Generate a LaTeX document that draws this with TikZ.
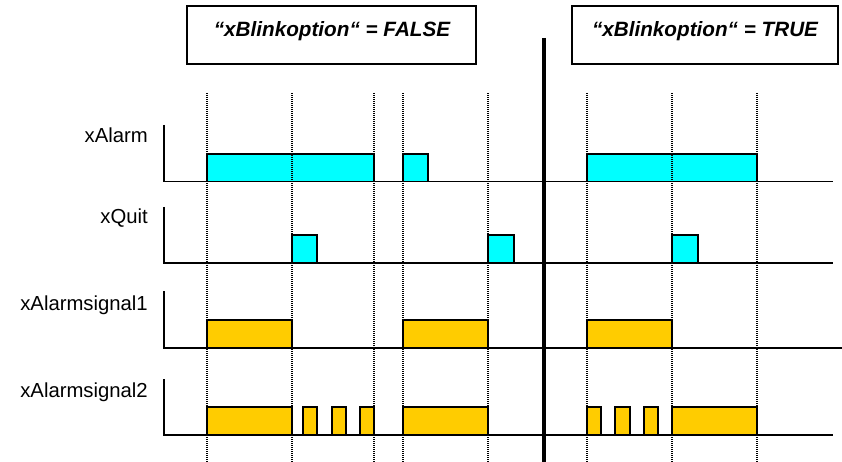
\documentclass[tikz,border=0pt]{standalone}
\usepackage{fontspec}
\setmainfont{Liberation Sans}
\definecolor{sigcyan}{HTML}{00FFFF}
\definecolor{siggold}{HTML}{FFCC00}
\begin{document}
\begin{tikzpicture}[x=1pt,y=-1pt,
  axisline/.style={line width=1.5pt},
  cyanpulse/.style={fill=sigcyan,draw=black,line width=1.5pt},
  goldpulse/.style={fill=siggold,draw=black,line width=1.5pt},
  guide/.style={line width=1.1pt,dash pattern=on 1pt off 1pt},
  divider/.style={line width=3.2pt},
  titlebox/.style={draw=black,line width=1.3pt},
  titletext/.style={font=\fontsize{20.7}{24}\selectfont\bfseries\itshape,inner sep=0pt},
  lbl/.style={font=\fontsize{20.3}{24}\selectfont,anchor=base east,inner sep=0pt}]
\useasboundingbox (0,0) rectangle (842,462);

% title boxes
\draw[titlebox] (187,6) rectangle (476,64);
\node[titletext] (tfalse) at (332,31) {“xBlinkoption“ = FALSE};
\draw[titlebox] (572,6) rectangle (838,64);
\node[titletext] (ttrue) at (705,31) {“xBlinkoption“ = TRUE};

% labels
\node[lbl] (lalarm) at (148,143) {xAlarm};
\node[lbl] (lquit) at (148,223) {xQuit};
\node[lbl] (lsig1) at (148,310) {xAlarmsignal1};
\node[lbl] (lsig2) at (148,397) {xAlarmsignal2};

% xAlarm
\draw[axisline] (164,125) -- (164,181.7) -- (833,181.7);
\draw[cyanpulse] (207,181.7) rectangle (374,154);
\draw[cyanpulse] (403,181.7) rectangle (428,154);
\draw[cyanpulse] (587,181.7) rectangle (757,154);

% xQuit
\draw[axisline] (164,207) -- (164,263) -- (833,263);
\draw[cyanpulse] (292,263) rectangle (317,235);
\draw[cyanpulse] (488,263) rectangle (514,235);
\draw[cyanpulse] (672,263) rectangle (698,235);

% xAlarmsignal1
\draw[axisline] (164,291) -- (164,348) -- (842,348);
\draw[goldpulse] (207,348) rectangle (292,320);
\draw[goldpulse] (403,348) rectangle (488,320);
\draw[goldpulse] (587,348) rectangle (672,320);

% xAlarmsignal2
\draw[axisline] (164,379) -- (164,435) -- (833,435);
\draw[goldpulse] (207,435) rectangle (292,407);
\draw[goldpulse] (303,435) rectangle (317,407);
\draw[goldpulse] (332,435) rectangle (346,407);
\draw[goldpulse] (360,435) rectangle (374,407);
\draw[goldpulse] (403,435) rectangle (488,407);
\draw[goldpulse] (587,435) rectangle (601,407);
\draw[goldpulse] (615,435) rectangle (630,407);
\draw[goldpulse] (644,435) rectangle (658,407);
\draw[goldpulse] (672,435) rectangle (757,407);

% dotted guides
\foreach \gx in {207,292,374,403,488,587,672,757}
  \draw[guide] (\gx,93) -- (\gx,462);

% divider
\draw[divider] (544,38) -- (544,462);
\end{tikzpicture}
\end{document}
